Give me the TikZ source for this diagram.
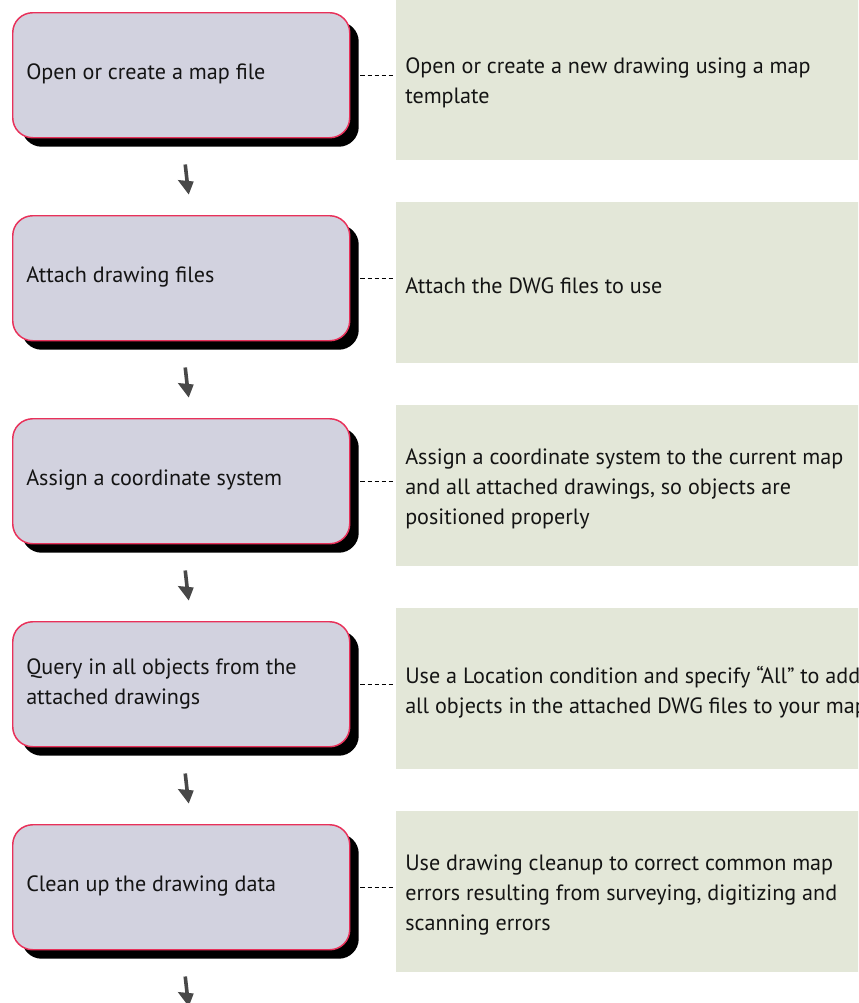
\documentclass[tikz,border=0pt]{standalone}
\usepackage{fontspec}
\setmainfont{PT Sans}
\usetikzlibrary{calc,shadows}

\definecolor{stepfill}{RGB}{210,210,223}
\definecolor{stepborder}{RGB}{232,49,90}
\definecolor{notefill}{RGB}{227,231,216}
\definecolor{arrowgray}{RGB}{72,72,72}
\definecolor{textblack}{RGB}{20,20,20}

\newcommand{\flowfont}{\fontsize{16.6pt}{22.5pt}\selectfont}

\tikzset{
  stepbox/.style={draw=stepborder, line width=1.1pt, fill=stepfill,
    rounded corners=15pt, minimum width=252.75pt, minimum height=93.75pt,
    anchor=north west, inner sep=0pt,
    drop shadow={shadow xshift=6.75pt, shadow yshift=-6.75pt, opacity=1, fill=black}},
  notebox/.style={fill=notefill, minimum width=352.5pt, minimum height=120.75pt,
    anchor=north west, inner sep=0pt},
  steptext/.style={anchor=west, align=left, inner sep=0pt, text=textblack, font=\flowfont},
  notetext/.style={anchor=west, align=left, inner sep=0pt, text=textblack, font=\flowfont},
  link/.style={line width=0.75pt, dash pattern=on 3.4pt off 1.9pt},
  down tick/.pic={
    \draw[line width=2.7pt, arrowgray] (0,0) -- (2,18);
    \fill[arrowgray] (-7.5,15.5) -- (8.5,17) -- (3.5,30) -- cycle;
  }
}

\begin{document}
\begin{tikzpicture}[x=0.75pt,y=-0.75pt]
\useasboundingbox (0,0) rectangle (858,1003);
\clip (0,0) rectangle (858,1003);

% description panels on the right
\node[notebox] (g1) at (396,-1)  {};
\node[notebox] (g2) at (396,202) {};
\node[notebox] (g3) at (396,405) {};
\node[notebox] (g4) at (396,608) {};
\node[notebox] (g5) at (396,811) {};

% workflow steps on the left
\node[stepbox] (b1) at (12,12)  {};
\node[stepbox] (b2) at (12,215) {};
\node[stepbox] (b3) at (12,418) {};
\node[stepbox] (b4) at (12,621) {};
\node[stepbox] (b5) at (12,824) {};

% step labels
\node[steptext] (s1) at ($(b1.west)+(14,-1)$) {Open or create a map file};
\node[steptext] (s2) at ($(b2.west)+(14,-1)$) {Attach drawing files};
\node[steptext] (s3) at ($(b3.west)+(14,-1)$) {Assign a coordinate system};
\node[steptext] (s4) at ($(b4.west)+(14,0)$)  {Query in all objects from the\\attached drawings};
\node[steptext] (s5) at ($(b5.west)+(14,-1)$) {Clean up the drawing data};

% descriptions
\node[notetext] (n1) at ($(g1.west)+(9,3)$) {Open or create a new drawing using a map\\template};
\node[notetext] (n2) at ($(g2.west)+(9,3)$) {Attach the DWG files to use};
\node[notetext] (n3) at ($(g3.west)+(9,3)$) {Assign a coordinate system to the current map\\and all attached drawings, so objects are\\positioned properly};
\node[notetext] (n4) at ($(g4.west)+(9,3)$) {Use a Location condition and specify “All” to add\\all objects in the attached DWG files to your map};
\node[notetext] (n5) at ($(g5.west)+(9,3)$) {Use drawing cleanup to correct common map\\errors resulting from surveying, digitizing and\\scanning errors};

% dashed links from each step to its description
\foreach \i in {1,...,5}{
  \draw[link] ($(b\i.east)+(10,0)$) -- ($(g\i.west |- b\i.east)+(-3,0)$);
}

% small arrows below each step
\foreach \i in {1,...,5}{
  \pic at ($(b\i.south)+(4,26)$) {down tick};
}
\end{tikzpicture}
\end{document}
